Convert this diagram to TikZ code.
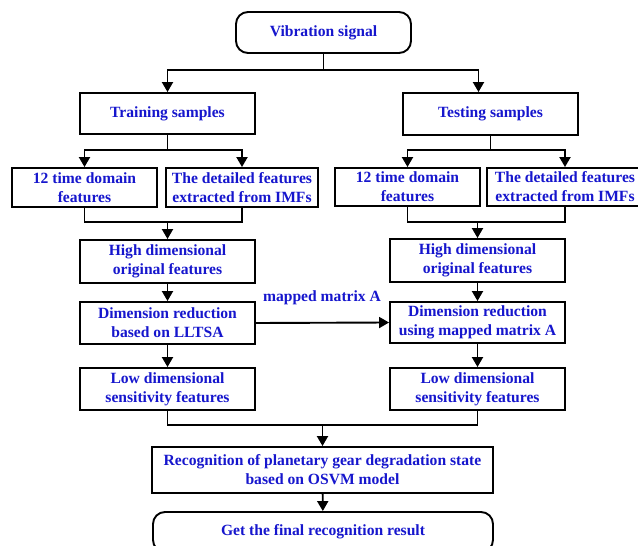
\documentclass[tikz,border=0pt]{standalone}
\usepackage{fontspec}
\setmainfont{Liberation Serif}
\usetikzlibrary{arrows.meta}
\definecolor{txtblue}{RGB}{22,22,205}
\tikzset{
  box/.style={draw=black, line width=1.9pt, fill=white, text=txtblue, font=\bfseries\fontsize{15.6}{19}\selectfont, align=center, inner sep=0pt, minimum width=175pt, minimum height=42pt},
  rbox/.style={box, rounded corners=12pt},
  line/.style={draw=black, line width=1.9pt},
  arr/.style={line, -{Triangle[length=10pt,width=11pt]}},
  lbl/.style={text=txtblue, font=\bfseries\fontsize{15.6}{19}\selectfont, inner sep=0pt}
}
\begin{document}
\begin{tikzpicture}[x=1pt,y=-1pt]
\useasboundingbox (0,0) rectangle (638,546);
\node[rbox, minimum height=41pt] (vib) at (323.5,32.5) {Vibration signal};
\node[box, minimum height=41pt] (train) at (167.5,113.5) {Training samples};
\node[box] (test) at (490.5,114) {Testing samples};
\node[box, minimum width=145pt, minimum height=39pt] (t1L) at (84.5,187.5) {12 time domain\\features};
\node[box, minimum width=152pt, minimum height=39pt] (t2L) at (242,187.5) {The detailed features\\extracted from IMFs};
\node[box, minimum width=145pt, minimum height=38pt] (t1R) at (407.5,187) {12 time domain\\features};
\node[box, minimum width=156pt, minimum height=38pt] (t2R) at (565,187) {The detailed features\\extracted from IMFs};
\node[box, minimum height=43pt] (hdL) at (167.5,261.5) {High dimensional\\original features};
\node[box, minimum height=43pt] (hdR) at (477.5,260.5) {High dimensional\\original features};
\node[box] (drL) at (167.5,323) {Dimension reduction\\based on LLTSA};
\node[box, minimum height=41pt] (drR) at (477.5,322.5) {Dimension reduction\\using mapped matrix A};
\node[box] (ldL) at (167.5,389) {Low dimensional\\sensitivity features};
\node[box] (ldR) at (477.5,389) {Low dimensional\\sensitivity features};
\node[box, minimum width=341pt, minimum height=46pt] (rec) at (322.5,470) {Recognition of planetary gear degradation state\\based on OSVM model};
\node[rbox, minimum width=340pt, minimum height=40pt] (fin) at (323,532) {Get the final recognition result};
\node[lbl] (mlab) at (322,298) {mapped matrix A};
% connectors
\coordinate (s0) at (323.5,70);
\draw[arr] (vib.south) -- (s0) -| (train.north);
\draw[arr] (s0) -| ([xshift=-12pt]test.north);
\coordinate (sL) at (167.5,150);
\draw[line] (train.south) -- (sL);
\draw[arr] (sL) -| (t1L.north);
\draw[arr] (sL) -| (t2L.north);
\coordinate (sR) at (490.5,150);
\draw[line] (test.south) -- (sR);
\draw[arr] (sR) -| (t1R.north);
\draw[arr] (sR) -| (t2R.north);
\coordinate (jL) at (167.5,222);
\draw[line] (t1L.south) |- (jL) -| (t2L.south);
\draw[arr] (jL) -- (hdL.north);
\coordinate (jR) at (477.5,222);
\draw[line] (t1R.south) |- (jR) -| (t2R.south);
\draw[arr] (jR) -- (hdR.north);
\draw[arr] (hdL) -- (drL);
\draw[arr] (hdR) -- (drR);
\draw[arr] (drL) -- (ldL);
\draw[arr] (drR) -- (ldR);
\draw[arr] (drL.east) -- (drR.west);
\coordinate (jB) at (322.5,425);
\draw[line] (ldL.south) |- (jB) -| (ldR.south);
\draw[arr] (jB) -- (rec.north);
\draw[arr] (rec) -- (fin);
\end{tikzpicture}
\end{document}
